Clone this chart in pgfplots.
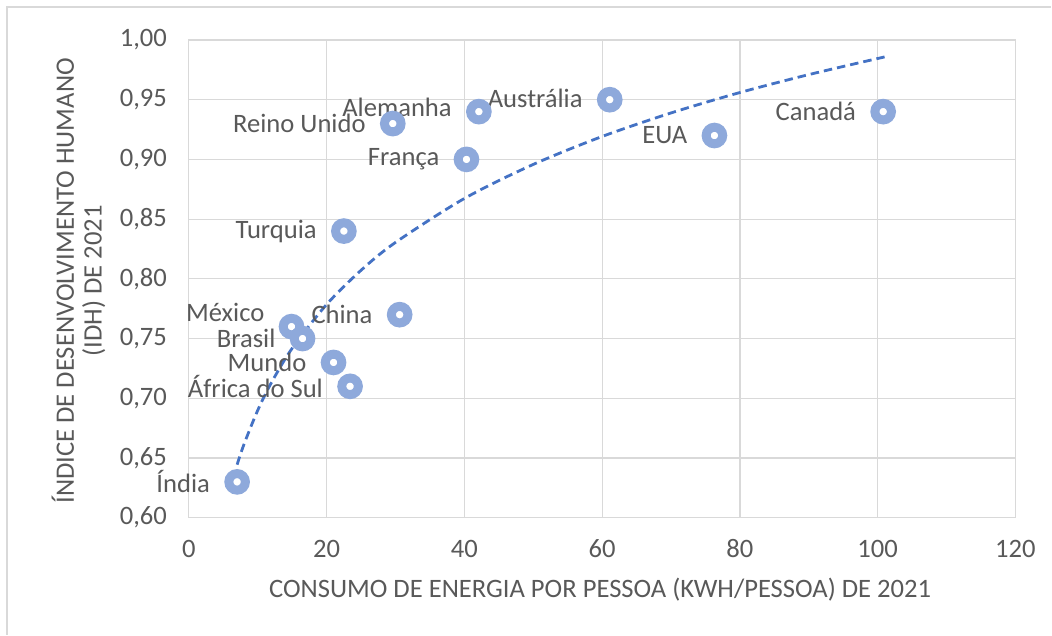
\documentclass[border=0pt]{standalone}
\usepackage{fontspec}
\setmainfont{Carlito}
\usepackage{pgfplots}
\pgfplotsset{compat=1.18}
\definecolor{txt}{HTML}{595959}
\definecolor{gridc}{HTML}{D9D9D9}
\definecolor{mk}{HTML}{8EA9DB}
\definecolor{trend}{HTML}{4472C4}
\begin{document}
\fontsize{26.7}{31}\selectfont
\begin{tikzpicture}
\path (0,0) rectangle (1052bp,635bp);
\draw[gridc, line width=1.2bp] (7bp,0) -- (7bp,628bp) -- (1052bp,628bp);
\begin{axis}[
  at={(189bp,117bp)}, anchor=south west,
  scale only axis, width=827bp, height=478bp,
  xmin=0, xmax=120, ymin=0.6, ymax=1.0,
  xtick={0,20,...,120},
  ytick={0.6,0.65,...,1.0},
  grid=major,
  grid style={gridc, line width=1.2bp},
  axis line style={gridc, line width=1.2bp},
  major tick length=0pt,
  tick style={draw=none},
  ticklabel style={font=\fontsize{26.7}{31}\selectfont, text=txt},
  /pgf/number format/assume math mode=true,
  yticklabel style={/pgf/number format/fixed, /pgf/number format/fixed zerofill, /pgf/number format/precision=2, /pgf/number format/use comma, xshift=-13bp},
  xticklabel style={yshift=-13bp},
  clip=false,
]
\addplot[smooth, trend, line width=2.8bp, dash pattern=on 8.5bp off 5bp] coordinates {
(7,0.6444) (8,0.6615) (10,0.6900) (12,0.7133) (15,0.7419) (20,0.7786) (25,0.8072) (30,0.8305) (40,0.8673) (50,0.8958) (60,0.9192) (70,0.9389) (80,0.9560) (90,0.9710) (101,0.9858)};
\addplot[only marks, mark=*, mark size=8.3bp, mark options={draw=mk, fill=white, line width=9bp}] coordinates {
(7,0.63) (14.9,0.76) (16.5,0.75) (21.0,0.73) (23.4,0.71) (22.5,0.84) (30.6,0.77) (29.6,0.93) (40.3,0.90) (42.1,0.94) (61.1,0.95) (76.3,0.92) (100.8,0.94)};
\begin{scope}[every node/.style={anchor=east, inner sep=0pt, text=txt, xshift=-27bp, font=\fontsize{26.7}{31}\selectfont}]
\node at (axis cs:7,0.63) {Índia};
\node[yshift=14bp] at (axis cs:14.9,0.76) {México};
\node at (axis cs:16.5,0.75) {Brasil};
\node at (axis cs:21.0,0.73) {Mundo};
\node at (axis cs:23.4,0.71) {África do Sul};
\node at (axis cs:22.5,0.84) {Turquia};
\node at (axis cs:30.6,0.77) {China};
\node at (axis cs:29.6,0.93) {Reino Unido};
\node at (axis cs:40.3,0.90) {França};
\node[yshift=4bp] at (axis cs:42.1,0.94) {Alemanha};
\node[yshift=1bp] at (axis cs:61.1,0.95) {Austrália};
\node at (axis cs:76.3,0.92) {EUA};
\node at (axis cs:100.8,0.94) {Canadá};
\end{scope}
\end{axis}
\node[text=txt, anchor=center] at (600.5bp,45bp) {CONSUMO DE ENERGIA POR PESSOA (KWH/PESSOA) DE 2021};
\node[text=txt, rotate=90, align=center, anchor=center] at (78.5bp,354bp) {ÍNDICE DE DESENVOLVIMENTO HUMANO\\[-3bp](IDH) DE 2021};
\end{tikzpicture}
\end{document}
